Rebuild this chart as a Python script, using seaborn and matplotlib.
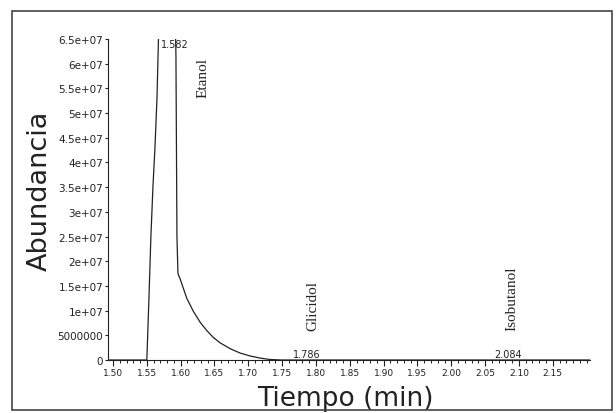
import matplotlib
matplotlib.use("Agg")
import matplotlib.pyplot as plt
from matplotlib.patches import Rectangle
from matplotlib.ticker import MultipleLocator, FixedLocator, FixedFormatter
import seaborn as sns
import pandas as pd

# ---- data ----
tiempo = [1.49, 1.550, 1.553, 1.556, 1.559, 1.562, 1.565, 1.567, 1.569,
          1.591, 1.593, 1.5945, 1.596, 1.599, 1.604, 1.609, 1.619, 1.629,
          1.639, 1.648, 1.658, 1.673, 1.688, 1.703, 1.717, 1.732, 1.75, 2.21]
abundancia = [0, 0, 1.2e7, 2.5e7, 3.5e7, 4.3e7, 5.3e7, 6.4e7, 7.5e7,
              7.5e7, 6.2e7, 2.5e7, 1.75e7, 1.65e7, 1.45e7, 1.25e7, 9.8e6, 7.6e6,
              5.9e6, 4.6e6, 3.5e6, 2.3e6, 1.4e6, 0.8e6, 0.4e6, 0.1e6, 0, 0]

ytick_vals = [0, 5e6, 1e7, 1.5e7, 2e7, 2.5e7, 3e7, 3.5e7, 4e7, 4.5e7, 5e7, 5.5e7, 6e7, 6.5e7]
ytick_labels = ["0", "5000000", "1e+07", "1.5e+07", "2e+07", "2.5e+07", "3e+07",
                "3.5e+07", "4e+07", "4.5e+07", "5e+07", "5.5e+07", "6e+07", "6.5e+07"]
xtick_vals = [1.50, 1.55, 1.60, 1.65, 1.70, 1.75, 1.80, 1.85, 1.90, 1.95, 2.00, 2.05, 2.10, 2.15]
xtick_labels = ["1.50", "1.55", "1.60", "1.65", "1.70", "1.75", "1.80", "1.85",
                "1.90", "1.95", "2.00", "2.05", "2.10", "2.15"]

peak_times = [1.582, 1.786, 2.084]
peak_labels = ["1.582", "1.786", "2.084"]
compuestos = ["Etanol", "Glicidol", "Isobutanol"]

df = pd.DataFrame({"Tiempo": tiempo, "Abundancia": abundancia})

sns.set_theme(style="ticks")
plt.rcParams["font.family"] = ["DejaVu Sans"]

fig = plt.figure(figsize=(6.16, 4.14), dpi=100)
fig.patch.set_facecolor("white")
ax = fig.add_axes([108 / 616, 1 - 361 / 414, (590 - 108) / 616, (361 - 40) / 414])

sns.lineplot(data=df, x="Tiempo", y="Abundancia", ax=ax, color="#222222",
             linewidth=0.9, estimator=None, sort=False)

ax.set_xlim(1.4926, 2.205)
ax.set_ylim(0, 6.5e7)

ax.yaxis.set_major_locator(FixedLocator(ytick_vals))
ax.yaxis.set_major_formatter(FixedFormatter(ytick_labels))
ax.xaxis.set_major_locator(FixedLocator(xtick_vals))
ax.xaxis.set_major_formatter(FixedFormatter(xtick_labels))
ax.xaxis.set_minor_locator(MultipleLocator(0.01))

ax.tick_params(axis="y", which="major", direction="out", length=2.5, width=0.8,
               pad=1, labelsize=7.5, colors="#222222")
ax.tick_params(axis="x", which="major", direction="out", length=4, width=0.8,
               pad=1.5, labelsize=6.5, colors="#222222")
ax.tick_params(axis="x", which="minor", direction="out", length=2.5, width=0.7,
               colors="#222222")

sns.despine(ax=ax)
for s in ["left", "bottom"]:
    ax.spines[s].set_linewidth(0.8)
    ax.spines[s].set_color("#222222")

ax.set_xlabel("Tiempo (min)", fontsize=19, color="#222222")
ax.set_ylabel("Abundancia", fontsize=19.5, color="#222222")
ax.yaxis.set_label_coords(-0.115, 0.53)
ax.xaxis.set_label_coords(0.493, -0.078)

# peak retention-time labels
ax.text(1.571, 6.4e7, peak_labels[0], fontsize=7, ha="left", va="center", color="#222222")
ax.text(peak_times[1], 2e5, peak_labels[1], fontsize=7, ha="center", va="bottom", color="#222222")
ax.text(peak_times[2], 2e5, peak_labels[2], fontsize=7, ha="center", va="bottom", color="#222222")

# compound names
serif = ["Liberation Serif", "DejaVu Serif"]
ax.text(1.633, 5.73e7, compuestos[0], rotation=90, fontsize=11, family=serif,
        ha="center", va="center", color="#222222")
ax.text(1.796, 1.11e7, compuestos[1], rotation=90, fontsize=11, family=serif,
        ha="center", va="center", color="#222222")
ax.text(2.090, 1.27e7, compuestos[2], rotation=90, fontsize=11, family=serif,
        ha="center", va="center", color="#222222")

# outer frame
fig.patches.append(Rectangle((12 / 616, 3 / 414), 600 / 616, 399 / 414,
                             transform=fig.transFigure, fill=False,
                             edgecolor="#444444", linewidth=1.2))

fig.savefig("out.png", dpi=100)
